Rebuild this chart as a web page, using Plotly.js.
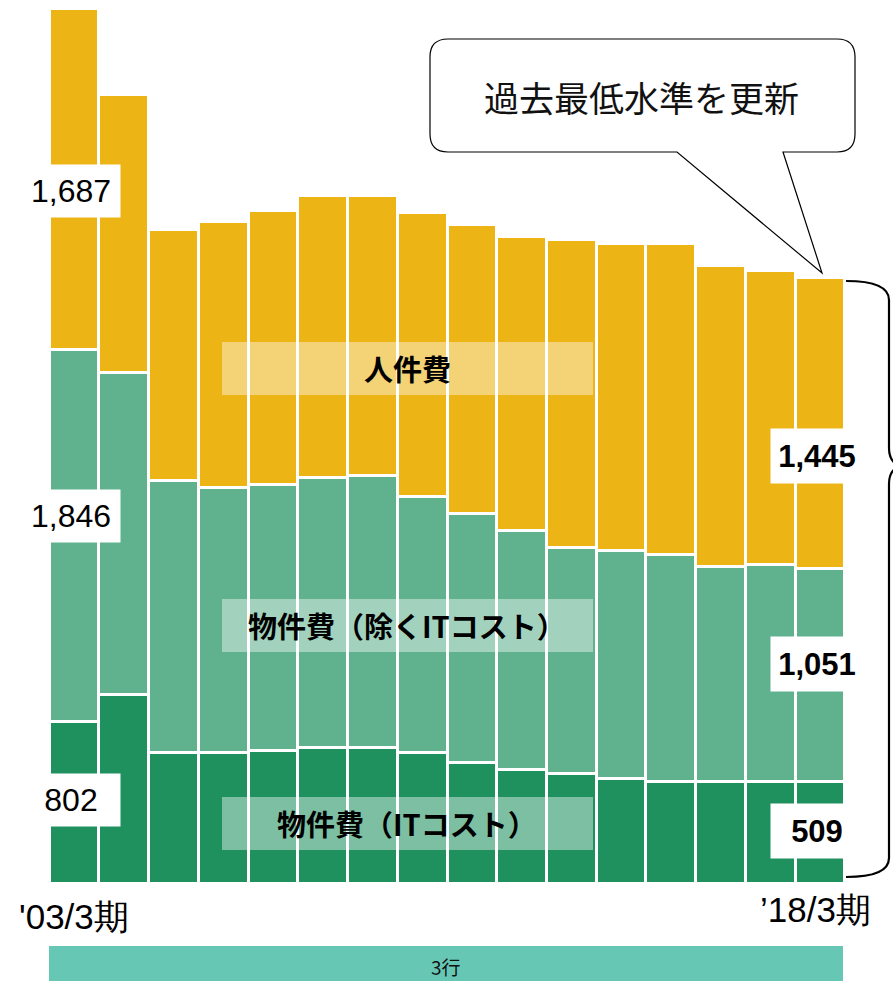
<!DOCTYPE html>
<html>
<head>
<meta charset="utf-8">
<script src="https://cdn.plot.ly/plotly-3.0.1.min.js"></script>
<style>html,body{margin:0;padding:0;background:#fff}#chart{width:893px;height:981px}</style>
</head>
<body>
<div id="chart"></div>
<script>
// ---- data (億円, 3行合算) ----
const periods = ["'03/3","'04/3","'05/3","'06/3","'07/3","'08/3","'09/3","'10/3","'11/3","'12/3","'13/3","'14/3","'15/3","'16/3","'17/3","'18/3"];
const itCost    = [802, 940, 651, 651, 662, 674, 674, 651, 602, 567, 544, 520, 509, 509, 509, 509];
const nonItCost = [1846, 1591, 1349, 1313, 1315, 1338, 1350, 1267, 1231, 1182, 1121, 1133, 1123, 1062, 1074, 1051];
const personnel = [1687, 1380, 1244, 1315, 1361, 1399, 1387, 1409, 1434, 1457, 1529, 1517, 1538, 1493, 1456, 1445];
const seriesNames = ["物件費（ITコスト）", "物件費（除くITコスト）", "人件費"];
const firstLabel = "'03/3期";
const lastLabel = "’18/3期";
const bankLabel = "3行";
const calloutText = "過去最低水準を更新";

const fmt = v => v.toLocaleString('en-US');

const W = 893, H = 981;
const px = x => x / W;
const py = y => 1 - y / H;

const colors = ["#1E915F", "#60B28F", "#EDB416"];
const lineStyle = {color: "#ffffff", width: 3};

const traces = [itCost, nonItCost, personnel].map((vals, i) => ({
  type: "bar",
  x: periods,
  y: vals,
  name: seriesNames[i],
  marker: {color: colors[i], line: lineStyle},
  hoverinfo: "x+y+name"
}));

const numFont = {family: "Liberation Sans, Arial, sans-serif", size: 32, color: "#000"};
const numFontBold = {family: "Liberation Sans, Arial, sans-serif", size: 31, color: "#000", weight: "bold"};
const jpBold = {family: "Noto Sans CJK JP, sans-serif", size: 29, color: "#000", weight: "bold"};

const n = periods.length;
const annotations = [
  {x: px(71), y: py(191), text: fmt(personnel[0]), font: numFont},
  {x: px(71), y: py(516), text: fmt(nonItCost[0]), font: numFont},
  {x: px(71), y: py(800), text: fmt(itCost[0]), font: numFont},
].map(a => Object.assign({xref: "paper", yref: "paper", showarrow: false, bgcolor: "#fff",
  width: 98, height: 52, borderpad: 0, xanchor: "center", yanchor: "middle"}, a));

[
  {x: px(817), y: py(456), text: fmt(personnel[n-1]), font: numFontBold},
  {x: px(817), y: py(664), text: fmt(nonItCost[n-1]), font: numFontBold},
  {x: px(817), y: py(831), text: fmt(itCost[n-1]), font: numFontBold},
].forEach(a => annotations.push(Object.assign({xref: "paper", yref: "paper", showarrow: false, bgcolor: "#fff",
  width: 92, height: 54, borderpad: 0, xanchor: "center", yanchor: "middle"}, a)));

[[seriesNames[2], 368], [seriesNames[1], 625], [seriesNames[0], 823]].forEach(([t, y]) => {
  annotations.push({xref: "paper", yref: "paper", x: px(407), y: py(y), text: t, showarrow: false,
    font: jpBold, xanchor: "center", yanchor: "middle"});
});

annotations.push({xref: "paper", yref: "paper", x: px(17), y: py(916), text: firstLabel, showarrow: false,
  xanchor: "left", yanchor: "middle", font: {family: "Liberation Sans, Arial, sans-serif", size: 35, color: "#000"}});
annotations.push({xref: "paper", yref: "paper", x: px(873), y: py(909), text: lastLabel, showarrow: false,
  xanchor: "right", yanchor: "middle", font: {family: "Liberation Sans, Arial, sans-serif", size: 35, color: "#000"}});
annotations.push({xref: "paper", yref: "paper", x: px(446), y: py(966), text: bankLabel, showarrow: false,
  xanchor: "center", yanchor: "middle", font: {family: "Noto Sans CJK JP, sans-serif", size: 19, color: "#111"}});
annotations.push({xref: "paper", yref: "paper", x: px(641), y: py(97), text: calloutText, showarrow: false,
  xanchor: "center", yanchor: "middle", font: {family: "Noto Sans CJK JP, sans-serif", size: 35, color: "#111"}});

function path(cmds) {
  return cmds.map(c => {
    if (typeof c === "string") return c;
    return px(c[0]).toFixed(5) + "," + py(c[1]).toFixed(5);
  }).join(" ");
}

const L = 430, R = 855, T = 39, B = 152, r = 18;
const bubble = path([
  "M", [L + r, T], "L", [R - r, T], "Q", [R, T], [R, T + r],
  "L", [R, B - r], "Q", [R, B], [R - r, B],
  "L", [783, B], "L", [822, 273], "L", [677, B],
  "L", [L + r, B], "Q", [L, B], [L, B - r],
  "L", [L, T + r], "Q", [L, T], [L + r, T], "Z"
]);

const brace = path([
  "M", [846, 281], "Q", [889, 281], [889, 300],
  "L", [889, 448], "Q", [889, 462], [900, 466],
  "M", [900, 466], "Q", [889, 470], [889, 484],
  "L", [889, 858], "Q", [889, 877], [846, 877]
]);

const shapes = [
  {type: "rect", xref: "paper", yref: "paper", x0: px(222), x1: px(593), y0: py(342), y1: py(395),
    fillcolor: "rgba(255,255,255,0.42)", line: {width: 0}, layer: "above"},
  {type: "rect", xref: "paper", yref: "paper", x0: px(222), x1: px(593), y0: py(599), y1: py(652),
    fillcolor: "rgba(255,255,255,0.42)", line: {width: 0}, layer: "above"},
  {type: "rect", xref: "paper", yref: "paper", x0: px(222), x1: px(593), y0: py(797), y1: py(850),
    fillcolor: "rgba(255,255,255,0.42)", line: {width: 0}, layer: "above"},
  {type: "path", xref: "paper", yref: "paper", path: bubble, fillcolor: "#fff",
    line: {color: "#000", width: 1.2}, layer: "above"},
  {type: "path", xref: "paper", yref: "paper", path: brace,
    line: {color: "#000", width: 2.2}, layer: "above"},
  {type: "rect", xref: "paper", yref: "paper", x0: px(49), x1: px(843), y0: py(946), y1: py(981),
    fillcolor: "#66C8B4", line: {width: 0}, layer: "above"}
];

const layout = {
  width: W, height: H,
  margin: {l: 0, r: 0, t: 0, b: 0},
  paper_bgcolor: "#fff", plot_bgcolor: "#fff",
  barmode: "stack", bargap: 0,
  showlegend: false,
  xaxis: {type: "category", range: [-1.485, 16.465], visible: false, fixedrange: true},
  yaxis: {range: [-482, 4379], visible: false, fixedrange: true},
  annotations: annotations,
  shapes: shapes
};

Plotly.newPlot("chart", traces, layout, {displayModeBar: false, staticPlot: true});
</script>
</body>
</html>
